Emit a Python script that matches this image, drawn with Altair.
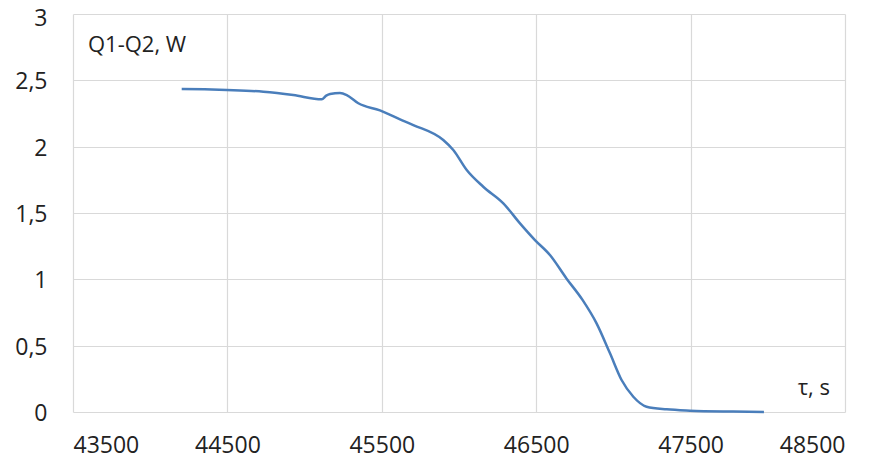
import altair as alt
import pandas as pd

# time, s
tau = [44204, 44350, 44495, 44733, 44927, 45111, 45140, 45165, 45229, 45273,
       45348, 45488, 45618, 45704, 45898, 45963, 46050, 46157, 46287, 46395,
       46492, 46589, 46697, 46800, 46891, 46978, 47053, 47129, 47215, 47345,
       47496, 47775, 47975]
# Q1-Q2, W
q = [2.435, 2.432, 2.427, 2.414, 2.389, 2.357, 2.385, 2.397, 2.404, 2.389,
     2.327, 2.273, 2.206, 2.163, 2.050, 1.975, 1.824, 1.698, 1.573, 1.422,
     1.296, 1.183, 1.005, 0.845, 0.668, 0.442, 0.241, 0.115, 0.040, 0.020,
     0.010, 0.003, 0.0]

x_ticks = [43500, 44500, 45500, 46500, 47500, 48500]
y_ticks = [0, 0.5, 1, 1.5, 2, 2.5, 3]

ann_text = ["Q1-Q2, W", "τ, s"]
ann_x = [43597, 48403]
ann_y = [2.713, 0.128]
ann_align = ["left", "right"]

df = pd.DataFrame({"tau": tau, "q": q})
ann = pd.DataFrame({"t": ann_text, "x": ann_x, "y": ann_y, "a": ann_align})

FONT = "Open Sans"

xs = alt.Scale(domain=[43500, 48500], nice=False, zero=False)
ys = alt.Scale(domain=[0, 3], nice=False)

line = alt.Chart(df).mark_line(
    color="#4a7ebb", strokeWidth=2.5, interpolate="monotone"
).encode(
    x=alt.X("tau:Q", scale=xs, title=None,
            axis=alt.Axis(values=x_ticks, format="d", grid=True, domain=False,
                          ticks=False, labelPadding=22, labelFontSize=23,
                          labelFont=FONT, labelColor="#222222",
                          gridColor="#d9d9d9", gridWidth=1.2)),
    y=alt.Y("q:Q", scale=ys, title=None,
            axis=alt.Axis(values=y_ticks, grid=True, domain=False, ticks=False,
                          labelExpr="replace(toString(datum.value), '.', ',')",
                          labelPadding=26, labelFontSize=23, labelFont=FONT,
                          labelColor="#222222", gridColor="#d9d9d9",
                          gridWidth=1.2,
                          labelOffset=alt.condition("datum.value == 3", alt.value(4), alt.value(1.5)))),
)

left = alt.Chart(ann[ann.a == "left"]).mark_text(
    align="left", baseline="alphabetic", fontSize=22, font=FONT, color="#222222"
).encode(x=alt.X("x:Q", scale=xs), y=alt.Y("y:Q", scale=ys), text="t:N")

right = alt.Chart(ann[ann.a == "right"]).mark_text(
    align="right", baseline="alphabetic", fontSize=22, font=FONT, color="#222222"
).encode(x=alt.X("x:Q", scale=xs), y=alt.Y("y:Q", scale=ys), text="t:N")

chart = alt.layer(line, left, right).properties(
    width=772, height=398,
    autosize=alt.AutoSizeParams(type="none"),
    padding={"left": 65, "top": 6, "right": 30, "bottom": 43},
    background="white",
).configure_view(stroke=None)

chart.save("out.html", embed_options={"renderer": "svg", "actions": False})
